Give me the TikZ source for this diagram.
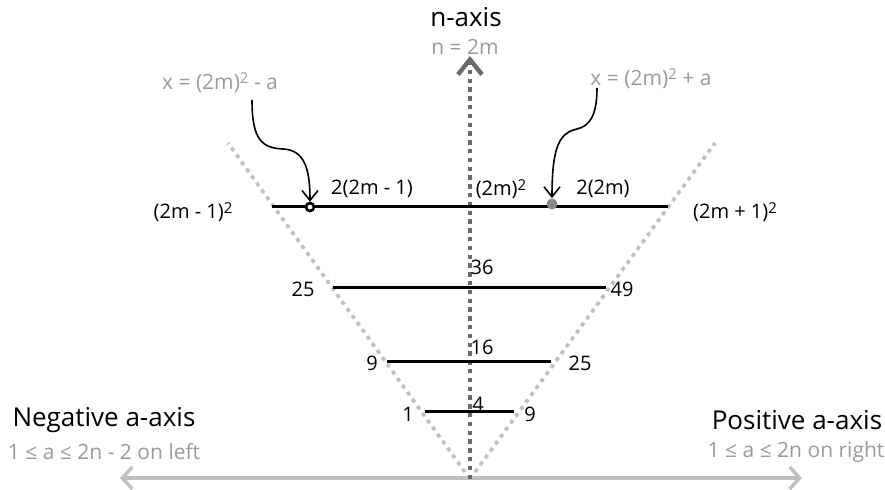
\documentclass[tikz,border=0pt]{standalone}
\usepackage{fontspec}
\setmainfont{Open Sans}
\usepackage{tikz}
\usetikzlibrary{arrows.meta}
\definecolor{axisGray}{HTML}{6A6A6A}
\definecolor{lightGray}{HTML}{BFBFBF}
\definecolor{noteGray}{HTML}{9A9A9A}
\newcommand{\sqr}{\raisebox{0.5ex}{\fontsize{7.5}{9}\selectfont 2}}
\begin{document}
\begin{tikzpicture}[x=0.5pt,y=-0.5pt,font=\fontsize{10}{12}\selectfont,
  head/.style={font=\fontsize{13}{15}\selectfont},
  note/.style={text=noteGray,font=\fontsize{10.5}{13}\selectfont},
  vline/.style={lightGray,line width=1.8pt,dash pattern=on 2pt off 2.3pt},
  rung/.style={line width=1.5pt},
  barb/.style={-{Straight Barb[length=5pt,width=8pt]},line width=0.8pt}]
\useasboundingbox (0,0) rectangle (885,490);
% --- axes ---
\coordinate (apex) at (470,479);
\coordinate (ntip) at (470,56);
\coordinate (aneg) at (120,478);
\coordinate (apos) at (802,478);
\coordinate (vl) at (228,143);
\coordinate (vr) at (715,143);
\draw[vline] (apex) -- (vl);
\draw[vline] (apex) -- (vr);
\draw[lightGray,line width=1.7pt,{Straight Barb[length=5pt,width=11pt]}-{Straight Barb[length=5pt,width=11pt]}] (aneg) -- (apos);
\draw[axisGray,line width=2.1pt,dash pattern=on 2.2pt off 2.2pt,-{Straight Barb[length=7.5pt,width=12pt,line width=2.2pt]}] (apex) -- (ntip);
\node[head] (naxis) at (466,17) {n-axis};
\node[note] (nval) at (465,47) {n = 2m};
\node[head] (neg) at (104,420) {Negative a-axis};
\node[note] (negr) at (104,452) {1 ≤ a ≤ 2n - 2 on left};
\node[head] (pos) at (797,420) {Positive a-axis};
\node[note] (posr) at (796,452) {1 ≤ a ≤ 2n on right};
% --- rungs ---
\foreach \y/\l/\r in {207/272/668, 288/333/606, 362/387/551, 412/425/514}{
  \coordinate (L\y) at (\l,\y);
  \coordinate (R\y) at (\r,\y);
  \draw[rung] (L\y) -- (R\y);
}
\node (sqlo) at (193,212) {(2m - 1)\sqr};
\node (sqhi) at (735,212) {(2m + 1)\sqr};
\node (gapl) at (372,189) {2(2m - 1)};
\node (sqm) at (501,189) {(2m)\sqr};
\node (gapr) at (603,189) {2(2m)};
\node (n36) at (482,267) {36};
\node (n25l) at (303,289) {25};
\node (n49) at (622,289) {49};
\node (n16) at (482,347) {16};
\node (n9l) at (372,363) {9};
\node (n25r) at (580,363) {25};
\node (n4) at (478,404) {4};
\node (n1) at (408,414) {1};
\node (n9r) at (530,414) {9};
% --- x points ---
\node[circle,draw,fill=white,line width=1.3pt,minimum size=4pt,inner sep=0pt] (xm) at (310,207) {};
\node[circle,fill=axisGray!80,minimum size=5.5pt,inner sep=0pt] (xp) at (552,204) {};
\node[note] (lm) at (220,83) {x = (2m)\sqr\ - a};
\node[note] (lp) at (651,79) {x = (2m)\sqr\ + a};
\draw[barb] (252,100) .. controls (252,140) and (262,148) .. (283,149) .. controls (305,150) and (310,170) .. (xm.north);
\draw[barb] (597,88) .. controls (597,115) and (590,126) .. (577,129) .. controls (560,133) and (552,145) .. (xp.north);
\end{tikzpicture}
\end{document}
